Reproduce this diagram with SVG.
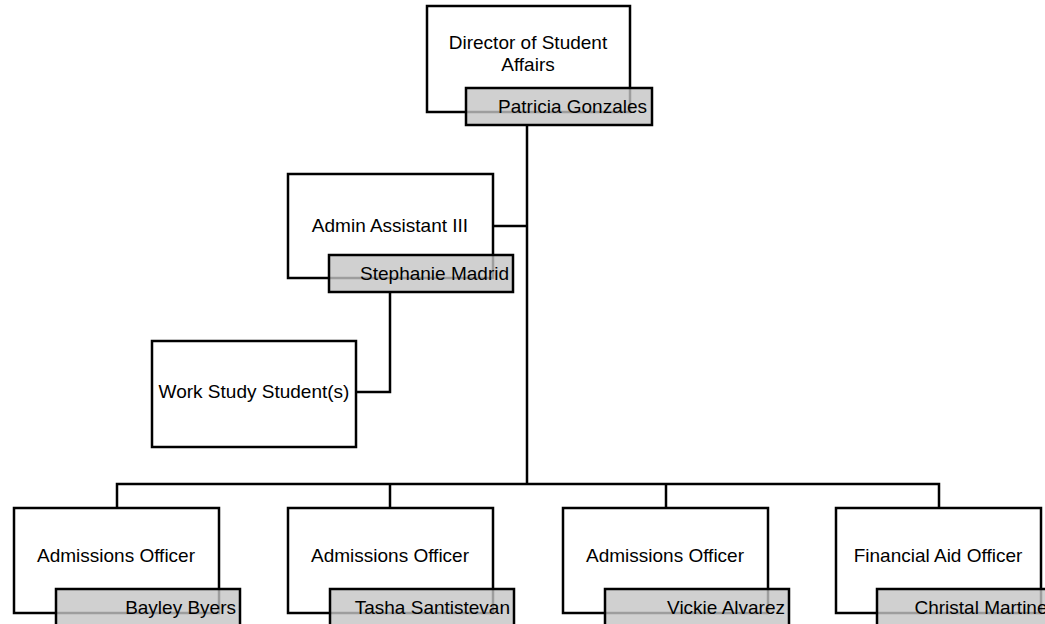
<svg xmlns="http://www.w3.org/2000/svg" width="1045" height="624" viewBox="0 0 1045 624">
<style>
.box{fill:#fff;stroke:#000;stroke-width:2.5}
.lab{fill:#c4c4c4;fill-opacity:0.8;stroke:#000;stroke-width:2.5}
.t{font-family:"Liberation Sans",Arial,sans-serif;font-size:19px;fill:#000;text-anchor:middle}
.n{font-family:"Liberation Sans",Arial,sans-serif;font-size:19px;fill:#000;text-anchor:end}
.c{fill:none;stroke:#000;stroke-width:2.5}
</style>
<rect width="1045" height="624" fill="#fff"/>
<g id="connectors">
<path class="c" d="M527,125 V484"/>
<path class="c" d="M493,226 H527"/>
<path class="c" d="M390,292 V392 H356"/>
<path class="c" d="M117,508 V484 H939 V508"/>
<path class="c" d="M390,484 V508"/>
<path class="c" d="M666,484 V508"/>
</g>
<g id="director">
<rect class="box" x="427" y="6" width="203" height="106"/>
<text class="t" x="528" y="49">Director of Student</text>
<text class="t" x="528" y="71">Affairs</text>
<rect class="lab" x="466" y="88" width="186" height="37"/>
<text class="n" x="647" y="113">Patricia Gonzales</text>
</g>
<g id="admin-assistant">
<rect class="box" x="288" y="174" width="205" height="104"/>
<text class="t" x="390" y="232">Admin Assistant III</text>
<rect class="lab" x="329" y="255" width="184" height="37"/>
<text class="n" x="509" y="280">Stephanie Madrid</text>
</g>
<g id="work-study">
<rect class="box" x="152" y="341" width="204" height="106"/>
<text class="t" x="254" y="398">Work Study Student(s)</text>
</g>
<g id="officer1">
<rect class="box" x="14" y="508" width="205" height="105"/>
<text class="t" x="116" y="562">Admissions Officer</text>
<rect class="lab" x="56" y="589" width="184" height="40"/>
<text class="n" x="236" y="614">Bayley Byers</text>
</g>
<g id="officer2">
<rect class="box" x="288" y="508" width="205" height="105"/>
<text class="t" x="390" y="562">Admissions Officer</text>
<rect class="lab" x="330" y="589" width="184" height="40"/>
<text class="n" x="510" y="614">Tasha Santistevan</text>
</g>
<g id="officer3">
<rect class="box" x="563" y="508" width="205" height="105"/>
<text class="t" x="665" y="562">Admissions Officer</text>
<rect class="lab" x="605" y="589" width="184" height="40"/>
<text class="n" x="785" y="614">Vickie Alvarez</text>
</g>
<g id="financial-aid">
<rect class="box" x="836" y="508" width="205" height="105"/>
<text class="t" x="938" y="562">Financial Aid Officer</text>
<rect class="lab" x="877" y="589" width="184" height="40"/>
<text class="n" x="1057" y="614">Christal Martinez</text>
</g>
</svg>
